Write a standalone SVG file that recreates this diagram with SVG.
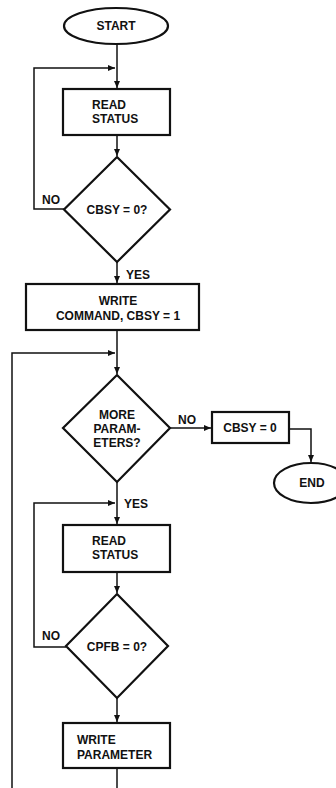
<svg xmlns="http://www.w3.org/2000/svg" width="336" height="788" viewBox="0 0 336 788">
<style>
.shape{fill:#fff;stroke:#111;stroke-width:2.2}
.t{font-family:"Liberation Sans",Arial,sans-serif;font-weight:bold;font-size:12px;fill:#111}
.c{text-anchor:middle}
.ln{fill:none;stroke:#111;stroke-width:1.5}
</style>
<defs>
<marker id="ah" markerWidth="8" markerHeight="8" refX="7" refY="4" orient="auto" markerUnits="userSpaceOnUse">
<path d="M0,1 L7,4 L0,7 Z" fill="#111"/>
</marker>
</defs>
<rect width="336" height="788" fill="#fff"/>
<g id="connectors">
<path class="ln" d="M117,44 V88" marker-end="url(#ah)"/>
<path class="ln" d="M65,209 H34 V68 H115" marker-end="url(#ah)"/>
<path class="ln" d="M117,135 V156" marker-end="url(#ah)"/>
<path class="ln" d="M117,262 V283" marker-end="url(#ah)"/>
<path class="ln" d="M117,330 V374" marker-end="url(#ah)"/>
<path class="ln" d="M12,788 V353 H115" marker-end="url(#ah)"/>
<path class="ln" d="M170,428 H211" marker-end="url(#ah)"/>
<path class="ln" d="M289,429 H311 V462" marker-end="url(#ah)"/>
<path class="ln" d="M117,482 V524" marker-end="url(#ah)"/>
<path class="ln" d="M66,647 H34 V503 H115" marker-end="url(#ah)"/>
<path class="ln" d="M117,572 V593" marker-end="url(#ah)"/>
<path class="ln" d="M117,698 V722" marker-end="url(#ah)"/>
<path class="ln" d="M117,768 V788"/>
<text class="t" x="42" y="204">NO</text>
<text class="t" x="126" y="279">YES</text>
<text class="t" x="178" y="424">NO</text>
<text class="t" x="124" y="508">YES</text>
<text class="t" x="42" y="640">NO</text>
</g>
<g id="start">
<ellipse class="shape" cx="116" cy="26" rx="52" ry="18"/>
<text class="t c" x="116" y="30">START</text>
</g>
<g id="read1">
<rect class="shape" x="63" y="89" width="107" height="46"/>
<text class="t" x="92" y="109">READ</text>
<text class="t" x="92" y="123">STATUS</text>
</g>
<g id="cbsy1">
<path class="shape" d="M117,157 L170,209.5 L117,262 L64,209.5 Z"/>
<text class="t c" x="117" y="214">CBSY = 0?</text>
</g>
<g id="writecmd">
<rect class="shape" x="26" y="284" width="173" height="46"/>
<text class="t c" x="118" y="305">WRITE</text>
<text class="t c" x="118" y="320">COMMAND, CBSY = 1</text>
</g>
<g id="more">
<path class="shape" d="M117,375 L170,428 L117,482 L63,428 Z"/>
<text class="t c" x="117" y="419">MORE</text>
<text class="t c" x="117" y="433">PARAM-</text>
<text class="t c" x="117" y="447">ETERS?</text>
</g>
<g id="cbsy0">
<rect class="shape" x="212" y="412" width="77" height="31"/>
<text class="t c" x="250" y="432">CBSY = 0</text>
</g>
<g id="end">
<ellipse class="shape" cx="311" cy="483" rx="37" ry="20"/>
<text class="t c" x="312" y="487">END</text>
</g>
<g id="read2">
<rect class="shape" x="63" y="525" width="107" height="47"/>
<text class="t" x="92" y="545">READ</text>
<text class="t" x="92" y="559">STATUS</text>
</g>
<g id="cpfb">
<path class="shape" d="M117,594 L168,646 L117,698 L66,646 Z"/>
<text class="t c" x="117" y="651">CPFB = 0?</text>
</g>
<g id="writeparam">
<rect class="shape" x="63" y="723" width="107" height="45"/>
<text class="t" x="77" y="744">WRITE</text>
<text class="t" x="77" y="759">PARAMETER</text>
</g>
</svg>
